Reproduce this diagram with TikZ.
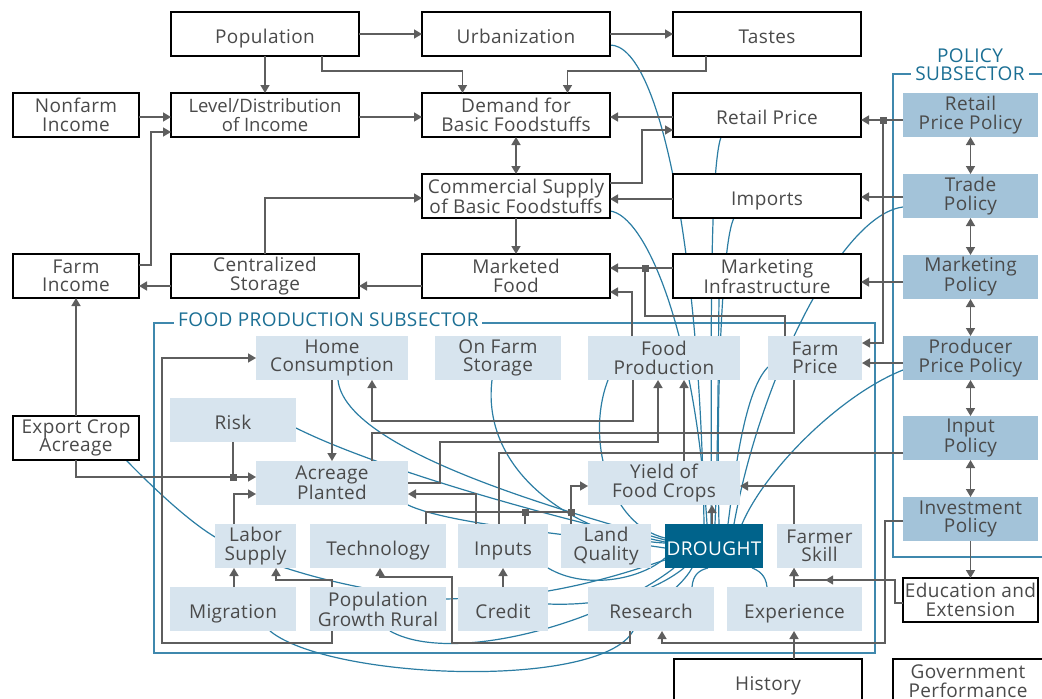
\documentclass[tikz,border=0pt]{standalone}
\usepackage{fontspec}
\setmainfont{Open Sans}[LetterSpace=2]
\usepackage{tikz}
\usetikzlibrary{positioning, arrows.meta, calc, backgrounds, decorations.markings}
\definecolor{txtgray}{HTML}{4A4A4A}
\definecolor{linkgray}{HTML}{5E5E5E}
\definecolor{curveblue}{HTML}{2B7DA3}
\definecolor{frameblue}{HTML}{3F88AD}
\definecolor{titleblue}{HTML}{1B6F94}
\definecolor{polblue}{HTML}{A3C3D9}
\definecolor{foodblue}{HTML}{D7E4EE}
\definecolor{droughtblue}{HTML}{00638B}
\newcommand{\diagfont}{\fontsize{19}{18.5}\selectfont}

\begin{document}
\begin{tikzpicture}[x=1pt, y=-1pt, >={Triangle[length=8pt,width=9pt]},
	box/.style={draw=black, line width=1.5pt, fill=white, text=txtgray, minimum height=44pt, inner sep=0pt, outer sep=0pt, align=center, font=\diagfont},
	wide/.style={box, minimum width=188pt},
	narrow/.style={box, minimum width=126pt},
	policy/.style={fill=polblue, text=txtgray, minimum width=135pt, minimum height=44pt, inner sep=0pt, outer sep=0pt, align=center, font=\diagfont},
	food/.style={fill=foodblue, text=txtgray, minimum height=44pt, inner sep=0pt, outer sep=0pt, align=center, font=\diagfont},
	oneline/.style={text height=18pt, text depth=0pt},
	link/.style={draw=linkgray, line width=1.6pt, ->},
	plainlink/.style={draw=linkgray, line width=1.6pt},
	both/.style={draw=linkgray, line width=1.6pt, <->},
	midarrow/.style={postaction={decorate, decoration={markings, mark=at position 0.7 with {\arrow{>}}}}},
	dlink/.style={draw=curveblue, line width=1.2pt},
	frame/.style={draw=frameblue, line width=1.2pt},
	junction/.style={fill=linkgray, minimum size=7pt, inner sep=0pt},
	sublabel/.style={fill=white, text=titleblue, font=\diagfont, inner xsep=4pt, inner ysep=0pt, align=center}]
	\useasboundingbox (0,0) rectangle (1042,699);
	\clip (0,0) rectangle (1042,699);

	% Outer system
	\node[wide, oneline] (pop) at (265,34) {Population};
	\node[wide, oneline, right=63pt of pop] (urban) {Urbanization};
	\node[wide, oneline, right=63pt of urban] (tastes) {Tastes};
	\node[wide, below=37pt of pop, font=\fontsize{18.5}{18.5}\selectfont\addfontfeature{LetterSpace=0}] (levdist) {Level/Distribution\\of Income};
	\node[wide, below=37pt of urban] (demand) {Demand for\\Basic Foodstuffs};
	\node[wide, oneline, below=37pt of tastes] (retail) {Retail Price};
	\node[narrow, left=32pt of levdist] (nonfarm) {Nonfarm\\Income};
	\node[wide, below=37pt of demand] (comsup) {Commercial Supply\\of Basic Foodstuffs};
	\node[wide, oneline, below=37pt of retail] (imports) {Imports};
	\node[wide, below=36pt of comsup] (marketed) {Marketed\\Food};
	\node[wide, below=36pt of imports] (mktinfra) {Marketing\\Infrastructure};
	\node[wide, left=63pt of marketed] (centstor) {Centralized\\Storage};
	\node[narrow, left=32pt of centstor] (farminc) {Farm\\Income};
	\node[narrow] (export) at (76,438) {Export Crop\\Acreage};
	\node[wide, oneline] (history) at (768,681) {History};
	\node[box, minimum width=150pt] (govperf) at (968,681) {Government\\Performance};
	\node[box, minimum width=135pt] (eduext) at (970.5,600) {Education and\\Extension};

	% Policy subsector
	\node[policy] (rppol) at (970.5,115) {Retail\\Price Policy};
	\node[policy] (tradepol) at (970.5,196) {Trade\\Policy};
	\node[policy] (mktpol) at (970.5,277) {Marketing\\Policy};
	\node[policy] (prodpol) at (970.5,358) {Producer\\Price Policy};
	\node[policy] (inputpol) at (970.5,438) {Input\\Policy};
	\node[policy] (investpol) at (970.5,519) {Investment\\Policy};

	% Food production subsector
	\node[food, minimum width=152pt] (homecons) at (332,358) {Home\\Consumption};
	\node[food, minimum width=126pt] (onfarm) at (498,358) {On Farm\\Storage};
	\node[food, minimum width=152pt] (foodprod) at (664,358) {Food\\Production};
	\node[food, minimum width=94pt] (farmprice) at (815,358) {Farm\\Price};
	\node[food, oneline, minimum width=126pt] (risk) at (233,420) {Risk};
	\node[food, minimum width=152pt] (acreage) at (332,483) {Acreage\\Planted};
	\node[food, minimum width=152pt] (yield) at (664,483) {Yield of\\Food Crops};
	\node[food, minimum width=81pt] (labor) at (255.5,546) {Labor\\Supply};
	\node[food, oneline, minimum width=136pt] (tech) at (378,546) {Technology};
	\node[food, oneline, minimum width=90pt] (inputs) at (503,546) {Inputs};
	\node[food, minimum width=90pt] (land) at (606,546) {Land\\Quality};
	\node[food, oneline, minimum width=98pt, fill=droughtblue, text=white] (drought) at (714,546) {DROUGHT};
	\node[food, minimum width=85pt] (skill) at (819.5,546) {Farmer\\Skill};
	\node[food, oneline, minimum width=126pt] (migration) at (233,609) {Migration};
	\node[food, minimum width=136pt] (popgrowth) at (378,609) {Population\\Growth Rural};
	\node[food, oneline, minimum width=90pt] (credit) at (503,609) {Credit};
	\node[food, oneline, minimum width=126pt] (research) at (651,609) {Research};
	\node[food, oneline, minimum width=135pt] (experience) at (794.5,609) {Experience};

	% Subsector labels
	\node[sublabel, anchor=west] (foodlbl) at (174,320) {FOOD PRODUCTION SUBSECTOR};
	\node[sublabel] (pollbl) at (970,64.5) {POLICY\\SUBSECTOR};

	% Junctions
	\coordinate (jmkt) at (645,268);
	\coordinate (jrp) at (883,120);
	\coordinate (jacr) at (233,477);
	\coordinate (jinp) at (525,512);
	\coordinate (jland) at (571,512);

	% Frames and drought links
	\begin{scope}[on background layer]
		\draw[frame] (154,323) rectangle (875,653);
		\draw[frame] (893,74) rectangle (1060,557);
		\draw[dlink] ([yshift=-11pt]urban.east) .. controls (660,45) and (700,250) .. ([xshift=-10pt]drought.north);
		\draw[dlink] ([xshift=-46pt]retail.south) .. controls (708,175) and (712,400) .. ([xshift=-3pt]drought.north);
		\draw[dlink] ([yshift=-15pt]comsup.east) .. controls (645,215) and (695,330) .. ([xshift=-7pt]drought.north);
		\draw[dlink] ([xshift=-33pt]imports.south) .. controls (722,240) and (716,400) .. ([xshift=5pt]drought.north);
		\draw[dlink] ([xshift=-48pt]mktinfra.south) .. controls (718,380) and (718,450) .. ([xshift=1pt]drought.north);
		\draw[dlink] ([yshift=-11pt]tradepol.west) .. controls (840,215) and (760,380) .. ([xshift=20pt]drought.north);
		\draw[dlink] ([yshift=-12pt]prodpol.west) .. controls (840,395) and (765,470) .. ([xshift=28pt]drought.north);
		\draw[dlink] ([yshift=-9pt]farmprice.west) .. controls (745,390) and (735,470) .. ([xshift=14pt]drought.north);
		\draw[dlink] ([xshift=-56pt]foodprod.south) .. controls (585,440) and (610,525) .. ([yshift=8pt]drought.west);
		\draw[dlink] ([xshift=-6pt]onfarm.south) .. controls (480,480) and (590,540) .. ([yshift=3pt]drought.west);
		\draw[dlink] ([xshift=6pt]homecons.south) .. controls (345,450) and (560,510) .. ([yshift=6pt]drought.west);
		\draw[dlink] ([yshift=-8pt]risk.east) .. controls (380,470) and (560,520) .. ([yshift=4pt]drought.west);
		\draw[dlink] ([yshift=-22pt]acreage.east) .. controls (450,525) and (580,535) .. ([yshift=-2pt]drought.west);
		\draw[dlink] ([yshift=-22pt]inputs.east) .. controls (585,590) and (640,580) .. ([yshift=-12pt]drought.west);
		\draw[dlink] ([xshift=50pt]export.south) .. controls (165,500) and (195,525) .. ([yshift=9pt]labor.west)
			.. controls (240,555) and (330,590) .. ([yshift=10pt]popgrowth.east)
			.. controls (480,598) and (520,596) .. ([yshift=18pt]credit.east)
			.. controls (600,582) and (640,568) .. ([yshift=-14pt]drought.west);
		\draw[dlink] ([yshift=5pt]credit.east) .. controls (600,606) and (650,595) .. ([xshift=-30pt]drought.south);
		\draw[dlink] ([xshift=12pt]popgrowth.south) .. controls (450,665) and (600,625) .. ([xshift=-40pt]drought.south);
		\draw[dlink] ([xshift=37pt]migration.south) .. controls (330,680) and (600,690) .. ([xshift=-18pt]research.south)
			.. controls (645,610) and (680,590) .. ([xshift=-22pt]drought.south);
		\draw[dlink] ([xshift=41pt]research.north) .. controls (693,574) and (700,570) .. ([xshift=-6pt]drought.south);
		\draw[dlink] ([xshift=-27.5pt]experience.north) .. controls (766,575) and (758,570) .. ([xshift=38pt]drought.south);
	\end{scope}

	% Connections, outer system
	\draw[link] (pop) -- (urban);
	\draw[link] (urban) -- (tastes);
	\draw[link] (pop) -- (levdist);
	\draw[link] ([xshift=57pt]pop.south) -- ++(0,15) -| ([xshift=-53.5pt]demand.north);
	\draw[link] ([xshift=-61pt]tastes.south) -- ++(0,15) -| ([xshift=51.5pt]demand.north);
	\draw[link] ([yshift=-2pt]nonfarm.east) -- ([yshift=-2pt]levdist.west);
	\draw[link] ([yshift=11pt]farminc.east) -- ++(12,0) |- ([yshift=-17pt]levdist.west);
	\draw[link] ([yshift=-2pt]levdist.east) -- ([yshift=-2pt]demand.west);
	\draw[link] ([yshift=-2pt]retail.west) -- ([yshift=-2pt]demand.east);
	\draw[both] (demand) -- (comsup);
	\draw[link] ([yshift=13pt]comsup.east) -- ++(32,0) |- ([yshift=-15pt]retail.west);
	\draw[link] ([yshift=-3pt]imports.west) -- ([yshift=-3pt]comsup.east);
	\draw[link] (comsup) -- (marketed);
	\draw[link] (centstor.north) |- ([yshift=-2pt]comsup.west);
	\draw[link] ([yshift=-10pt]marketed.west) -- ([yshift=-10pt]centstor.east);
	\draw[link] ([yshift=-10pt]centstor.west) -- ([yshift=-10pt]farminc.east);
	\draw[link] (export) -- (farminc);
	\draw[link] ([yshift=8pt]mktinfra.west) -- ([yshift=8pt]marketed.east);
	\draw[plainlink] ([xshift=-30pt]farmprice.north) -- ++(0,-20) -| (jmkt);
	\draw[link] ([xshift=-32pt]foodprod.north) |- ([yshift=-16pt]marketed.east);

	% Connections, policy
	\draw[link] ([yshift=-5pt]rppol.west) -- ([yshift=-5pt]retail.east);
	\draw[link] (jrp) |- ([yshift=15pt]farmprice.east);
	\draw[link] ([yshift=-1pt]tradepol.west) -- ([yshift=-1pt]imports.east);
	\draw[link] ([yshift=-5pt]mktpol.west) -- ([yshift=-5pt]mktpol.west -| mktinfra.east);
	\draw[link] ([yshift=-5pt]prodpol.west) -- ([yshift=-5pt]farmprice.east);
	\foreach \a/\b in {rppol/tradepol, tradepol/mktpol, mktpol/prodpol, prodpol/inputpol, inputpol/investpol}
		\draw[both] (\a) -- (\b);
	\draw[link] (investpol) -- (eduext);
	\draw[plainlink] ([yshift=-15pt]inputpol.west) -| ([xshift=-4pt]inputs.north);

	% Connections, food production
	\draw[link] ([xshift=20pt]yield.north) -- ([xshift=20pt]foodprod.south);
	\draw[link] ([xshift=-31pt]foodprod.south) -- ++(0,41) -| ([xshift=40pt]homecons.south);
	\draw[link] (homecons) -- (acreage);
	\draw[plainlink] ([xshift=-21pt]farmprice.south) -- ++(0,53) -| ([xshift=40pt]acreage.north);
	\draw[link] (acreage.east) -- ++(32,0) -- ++(0,-41) -| ([xshift=-6pt]foodprod.south);
	\draw[link] ([xshift=-27pt]inputs.north) |- ([yshift=-11pt]acreage.east);
	\draw[plainlink] ([xshift=48pt]tech.north) |- (jland);
	\draw[plainlink] ([xshift=22pt]inputs.north) -- (jinp);
	\draw[link] (land.north -| jland) -- (jland) |- ([yshift=-3pt]yield.west);
	\draw[link] ([xshift=-25.5pt]skill.north) |- ([yshift=-3pt]yield.east);
	\draw[link] ([xshift=-2pt]drought.north) -- ([xshift=-2pt]drought.north |- yield.south);
	\draw[link] ([xshift=-0.5pt]experience.north) -- ([xshift=-0.5pt]experience.north |- skill.south);
	\draw[link, midarrow] ([yshift=-3pt]eduext.west) -- ++(-8,0) -- ++(0,-23) -| ([xshift=-25.5pt]skill.south);
	\draw[link] ([xshift=26pt]history.north) -- ([xshift=26pt]history.north |- experience.south);
	\draw[link] ([yshift=-2pt]investpol.west) -- ++(-18,0) -- ++(0,122) -| ([xshift=11pt]research.south);
	\draw[link] ([xshift=-21pt]research.south) -- ++(0,12) -- ++(-178,0) -- ++(0,-66) -| ([xshift=2pt]tech.south);
	\draw[link] (credit) -- (inputs);
	\draw[plainlink] (risk) -- (jacr);
	\draw[link] (export.south) |- ([yshift=6pt]acreage.west);
	\draw[link] ([xshift=-21.5pt]labor.north) |- ([yshift=-11pt]acreage.west);
	\draw[link] ([xshift=1pt]migration.north) -- ([xshift=1pt]migration.north |- labor.south);
	\draw[link] ([xshift=-46pt]popgrowth.north) -- ++(0,-7) -| ([xshift=20.5pt]labor.south);
	\draw[link] ([xshift=-46pt]popgrowth.south) -- ++(0,12) -- ++(-170,0) |- (homecons.west);

	% Junction marks
	\foreach \j in {jmkt, jrp, jacr, jinp, jland}
		\node[junction] at (\j) {};
\end{tikzpicture}
\end{document}
